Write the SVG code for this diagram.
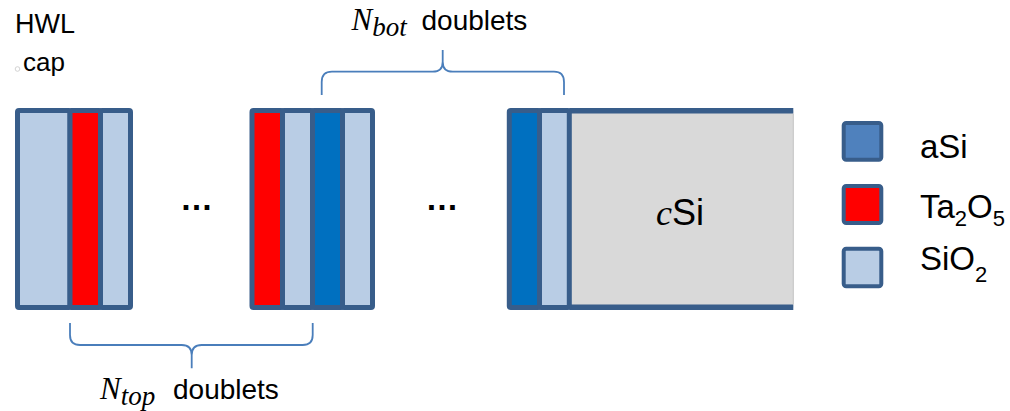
<svg xmlns="http://www.w3.org/2000/svg" width="1010" height="411" viewBox="0 0 1010 411">
<style>
.lay{stroke:#385D8A;stroke-width:5;stroke-linejoin:round}
.sio2{fill:#B9CDE5}
.ta{fill:#FF0000}
.asi{fill:#0070C0}
.csi{fill:#D9D9D9}
.leg{stroke:#385D8A;stroke-width:4;stroke-linejoin:round}
.brace{fill:none;stroke:#4A7EBB;stroke-width:1.8}
.t{font-family:"Liberation Sans",Arial,sans-serif;fill:#000}
.m{font-family:"Liberation Serif","Times New Roman",serif;font-style:italic;fill:#000}
.dots{font-family:"Liberation Sans",Arial,sans-serif;font-weight:bold;fill:#000}
</style>
<rect width="1010" height="411" fill="#FFFFFF"/>

<g id="label-hwl">
<text class="t" x="15" y="33" font-size="27">HWL</text>
<circle cx="17.5" cy="69" r="2.3" fill="none" stroke="#C8C8C8" stroke-width="0.8"/>
<text class="t" x="23" y="71" font-size="26">cap</text>
</g>

<g id="block-cap">
<rect class="lay sio2" x="17.5" y="110.5" width="52.5" height="197" rx="1.5"/>
<rect class="lay ta" x="70" y="110.5" width="30.5" height="197" rx="1.5"/>
<rect class="lay sio2" x="100.5" y="110.5" width="30" height="197" rx="1.5"/>
</g>

<g id="dots-1"><text class="dots" x="196.5" y="210" font-size="33" text-anchor="middle">…</text></g>

<g id="block-top-bot">
<rect class="lay ta" x="252" y="110.5" width="30.5" height="197" rx="1.5"/>
<rect class="lay sio2" x="282.5" y="110.5" width="30" height="197" rx="1.5"/>
<rect class="lay asi" x="312.5" y="110.5" width="30" height="197" rx="1.5"/>
<rect class="lay sio2" x="342.5" y="110.5" width="30" height="197" rx="1.5"/>
</g>

<g id="dots-2"><text class="dots" x="442" y="210" font-size="33" text-anchor="middle">…</text></g>

<g id="substrate">
<rect class="csi" x="569.3" y="110.5" width="224" height="197"/>
<path d="M569.3 110.8 H793.3 M569.3 307.2 H793.3" stroke="#385D8A" stroke-width="5.5" fill="none"/>
<line x1="793.3" y1="113.5" x2="793.3" y2="304.5" stroke="#C4C4C4" stroke-width="1"/>
<rect class="lay asi" x="509.3" y="110.5" width="30.2" height="197" rx="1.5"/>
<rect class="lay sio2" x="539.5" y="110.5" width="29.8" height="197" rx="1.5"/>
<text x="656" y="225" font-size="36"><tspan class="m">c</tspan><tspan class="t">Si</tspan></text>
</g>

<g id="connectors">
<path class="brace" d="M321.7 95 V82 Q321.7 71.7 332 71.7 H432.7 Q442.7 71.7 442.7 61.7 V50 V61.7 Q442.7 71.7 452.7 71.7 H554 Q564 71.7 564 82 V95"/>
<path class="brace" d="M70 323 V335 Q70 345 80 345 H181.7 Q191.7 345 191.7 355 V368.3 V355 Q191.7 345 201.7 345 H302.7 Q312.7 345 312.7 335 V323"/>
</g>

<g id="label-nbot">
<text x="351.5" y="30"><tspan class="m" font-size="31">N</tspan><tspan class="m" font-size="27" dy="6">bot</tspan><tspan class="t" font-size="28" dy="-6" x="421.5">doublets</tspan></text>
</g>

<g id="label-ntop">
<text x="100" y="399"><tspan class="m" font-size="31">N</tspan><tspan class="m" font-size="27" dy="6">top</tspan><tspan class="t" font-size="28" dy="-6" x="173">doublets</tspan></text>
</g>

<g id="legend-asi">
<rect class="leg" x="843.7" y="123" width="37.6" height="36.7" rx="2.5" fill="#4F81BD"/>
<text class="t" x="920" y="158" font-size="33">aSi</text>
</g>
<g id="legend-ta2o5">
<rect class="leg" x="843.7" y="186" width="37.6" height="37" rx="2.5" fill="#FF0000"/>
<text class="t" x="920" y="218" font-size="33">Ta<tspan font-size="22" dy="8">2</tspan><tspan dy="-8">O</tspan><tspan font-size="22" dy="8">5</tspan></text>
</g>
<g id="legend-sio2">
<rect class="leg" x="843.7" y="248.7" width="37.6" height="37.6" rx="2.5" fill="#B9CDE5"/>
<text class="t" x="920" y="270" font-size="33">SiO<tspan font-size="22" dy="12">2</tspan></text>
</g>
</svg>
